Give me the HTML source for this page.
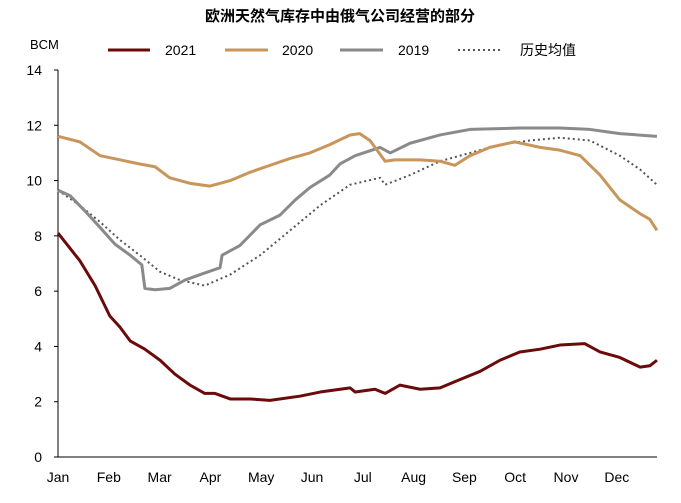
<!DOCTYPE html>
<html><head><meta charset="utf-8"><style>
body{margin:0;background:#fff;}
svg{font-family:"Liberation Sans","Noto Sans CJK SC",sans-serif;}
</style></head><body>
<svg id="c" width="681" height="498">
<text x="340" y="21" text-anchor="middle" font-size="15" font-weight="bold">欧洲天然气库存中由俄气公司经营的部分</text>
<text x="30" y="49" font-size="13">BCM</text>
<g>
<line x1="108" y1="50" x2="150" y2="50" stroke="#6b0a0a" stroke-width="3"/>
<text x="165" y="55" font-size="14">2021</text>
<line x1="225" y1="50" x2="268" y2="50" stroke="#c8955a" stroke-width="3"/>
<text x="282" y="55" font-size="14">2020</text>
<line x1="340" y1="50" x2="383" y2="50" stroke="#8a8a8a" stroke-width="3"/>
<text x="398" y="55" font-size="14">2019</text>
<line x1="458" y1="50" x2="500" y2="50" stroke="#555" stroke-width="2" stroke-dasharray="2,3"/>
<text x="520" y="55" font-size="14">历史均值</text>
</g>
<g id="axes"></g><g id="series"></g>
</svg>
<script>
const months=["Jan","Feb","Mar","Apr","May","Jun","Jul","Aug","Sep","Oct","Nov","Dec"];
const yTicks=[0,2,4,6,8,10,12,14];
const m21=[0,.43,.73,1.02,1.22,1.42,1.71,2.01,2.30,2.60,2.89,3.09,3.39,3.78,4.17,4.76,5.16,5.75,5.85,6.24,6.44,6.73,7.13,7.52,7.91,8.31,8.70,9.09,9.49,9.88,10.37,10.67,11.06,11.46,11.65,11.79];
const v21=[8.1,7.1,6.2,5.1,4.7,4.2,3.9,3.5,3.0,2.6,2.3,2.3,2.1,2.1,2.05,2.2,2.35,2.5,2.35,2.45,2.3,2.6,2.45,2.5,2.8,3.1,3.5,3.8,3.9,4.05,4.1,3.8,3.6,3.25,3.3,3.5];
const m20=[0,.43,.83,1.22,1.61,1.91,2.20,2.60,2.99,3.39,3.78,4.17,4.57,4.96,5.35,5.75,5.94,6.14,6.24,6.44,6.63,7.13,7.52,7.81,8.11,8.50,8.99,9.49,9.88,10.28,10.67,11.06,11.46,11.65,11.79];
const v20=[11.6,11.4,10.9,10.75,10.6,10.5,10.1,9.9,9.8,10.0,10.3,10.55,10.8,11.0,11.3,11.65,11.7,11.45,11.2,10.7,10.75,10.75,10.7,10.55,10.9,11.2,11.4,11.2,11.1,10.9,10.2,9.3,8.8,8.6,8.2];
const m19=[0,.24,.53,.83,1.12,1.42,1.65,1.71,1.91,2.20,2.50,2.80,3.19,3.23,3.58,3.98,4.37,4.67,4.96,5.35,5.55,5.85,6.34,6.54,6.93,7.52,8.11,9.09,9.88,10.47,11.06,11.79];
const v19=[9.65,9.45,8.9,8.3,7.7,7.3,6.95,6.1,6.05,6.1,6.4,6.6,6.85,7.3,7.65,8.4,8.75,9.3,9.75,10.2,10.6,10.9,11.2,11.0,11.35,11.65,11.85,11.9,11.9,11.85,11.7,11.6];
const mAvg=[0,.43,.83,1.22,1.61,2.01,2.40,2.89,3.39,3.98,4.57,5.16,5.75,6.34,6.44,6.93,7.52,8.11,8.70,9.29,9.88,10.47,11.06,11.46,11.79];
const vAvg=[9.65,9.1,8.5,7.85,7.3,6.7,6.4,6.2,6.6,7.3,8.2,9.1,9.85,10.1,9.85,10.2,10.7,11.0,11.3,11.45,11.55,11.45,10.9,10.4,9.85];
const NS="http://www.w3.org/2000/svg";
const X0=58,MW=50.8,Y0=457,YT=70;
const xs=m=>X0+m*MW, ys=v=>Y0-v*(Y0-YT)/14;
function mk(t,a,p){const e=document.createElementNS(NS,t);for(const k in a)e.setAttribute(k,a[k]);p.appendChild(e);return e;}
const ax=document.getElementById('axes');
let l=mk('line',{x1:X0,y1:YT,x2:X0,y2:Y0,stroke:'#000'},ax);


l=mk('line',{x1:X0,y1:Y0,x2:657,y2:Y0,stroke:'#000'},ax);


yTicks.forEach(v=>{
 const t=mk('text',{x:X0-16,y:ys(v)+5,'text-anchor':'end','font-size':14},ax);t.textContent=v;
 
 
 mk('line',{x1:X0-4,y1:ys(v),x2:X0,y2:ys(v),stroke:'#000'},ax);
});
months.forEach((m,i)=>{
 const t=mk('text',{x:xs(i),y:482,'text-anchor':'middle','font-size':14},ax);t.textContent=m;
 
 
});
const sg=document.getElementById('series');
function line(ms,vs,col,w,dash,name){
 const p=mk('polyline',{points:ms.map((m,i)=>xs(m)+','+ys(vs[i])).join(' '),fill:'none',stroke:col,'stroke-width':w,'stroke-linejoin':'round'},sg);
 if(dash)p.setAttribute('stroke-dasharray',dash);
 
 
}
line(mAvg,vAvg,'#555',2,'2,3','series-avg');
line(m19,v19,'#8a8a8a',3,null,'series-2019');
line(m20,v20,'#c8955a',3,null,'series-2020');
line(m21,v21,'#6b0a0a',3,null,'series-2021');
</script>
</body></html>
